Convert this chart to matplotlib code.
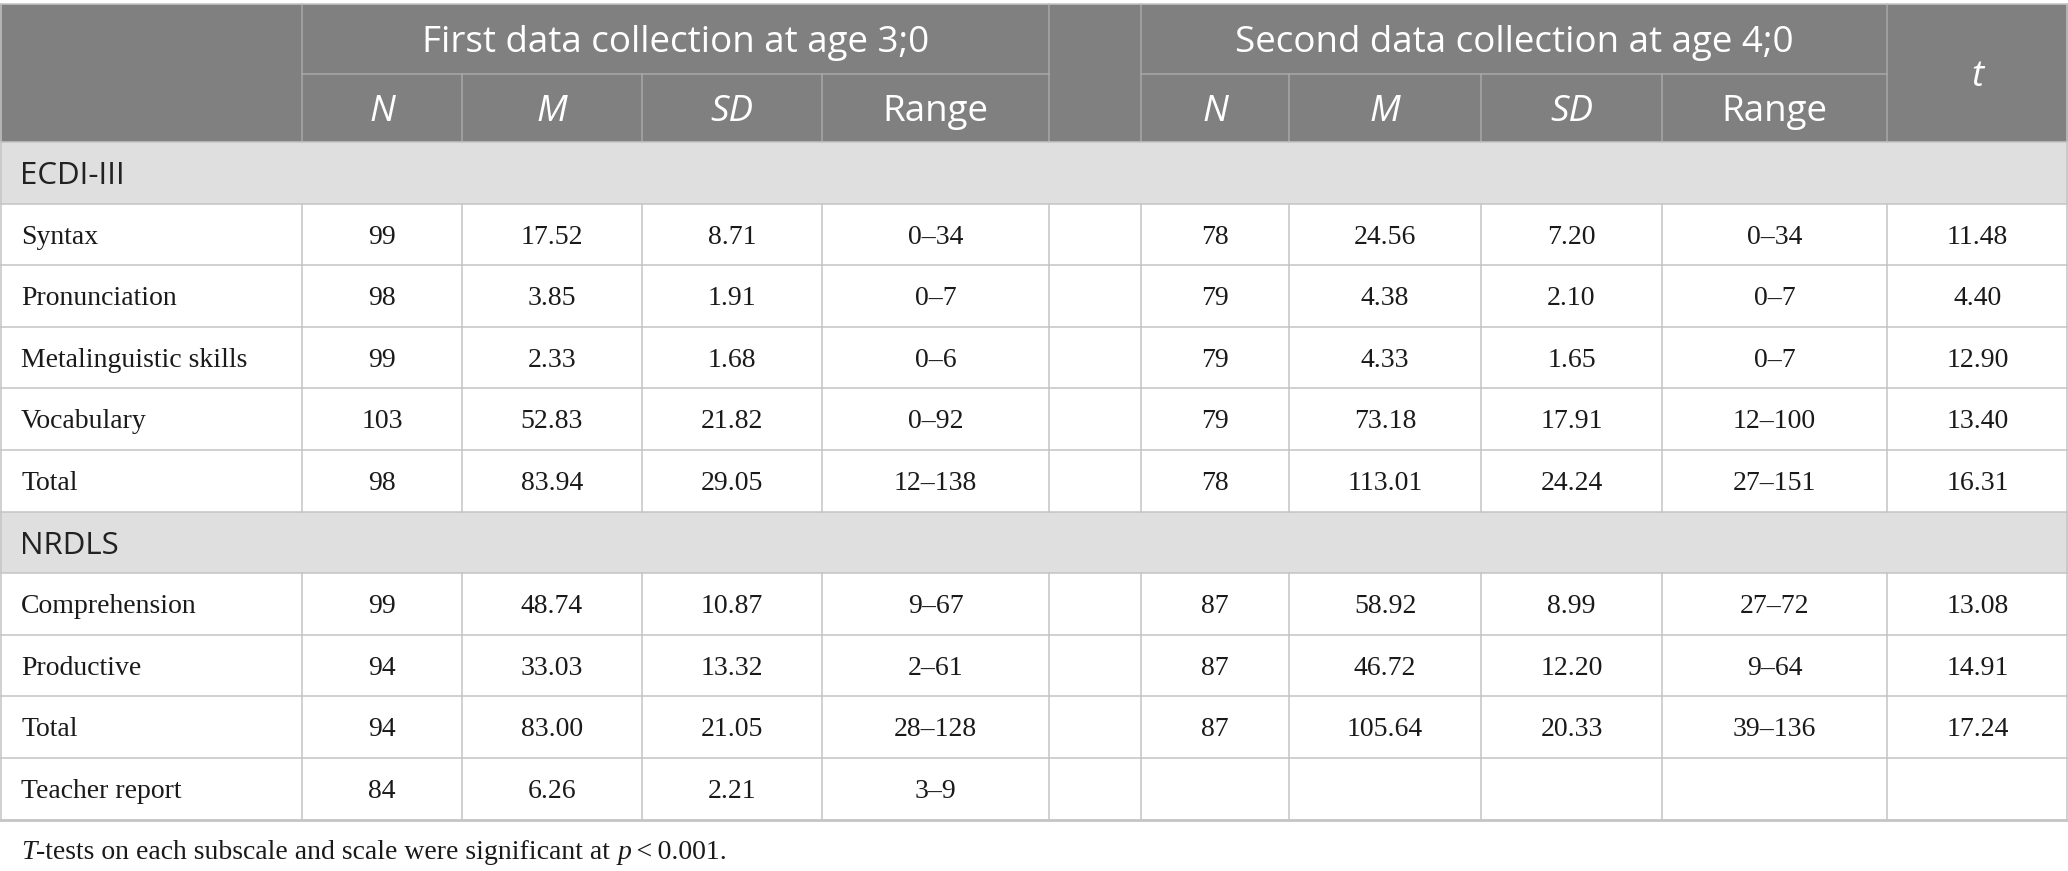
"""
Descriptive stats table, ECDI-III and NRDLS at age 3;0 and 4;0
"""
import matplotlib
matplotlib.use("Agg")
import matplotlib.pyplot as plt
from matplotlib.patches import Rectangle

# --- data ---
group_labels = ["First data collection at age 3;0", "Second data collection at age 4;0"]
sub_labels = ["N", "M", "SD", "Range"]
t_label = "t"

ecdi_rows = ["Syntax", "Pronunciation", "Metalinguistic skills", "Vocabulary", "Total"]
ecdi_first = [["99", "17.52", "8.71", "0–34"],
              ["98", "3.85", "1.91", "0–7"],
              ["99", "2.33", "1.68", "0–6"],
              ["103", "52.83", "21.82", "0–92"],
              ["98", "83.94", "29.05", "12–138"]]
ecdi_second = [["78", "24.56", "7.20", "0–34"],
               ["79", "4.38", "2.10", "0–7"],
               ["79", "4.33", "1.65", "0–7"],
               ["79", "73.18", "17.91", "12–100"],
               ["78", "113.01", "24.24", "27–151"]]
ecdi_t = ["11.48", "4.40", "12.90", "13.40", "16.31"]

nrdls_rows = ["Comprehension", "Productive", "Total", "Teacher report"]
nrdls_first = [["99", "48.74", "10.87", "9–67"],
               ["94", "33.03", "13.32", "2–61"],
               ["94", "83.00", "21.05", "28–128"],
               ["84", "6.26", "2.21", "3–9"]]
nrdls_second = [["87", "58.92", "8.99", "27–72"],
                ["87", "46.72", "12.20", "9–64"],
                ["87", "105.64", "20.33", "39–136"],
                ["", "", "", ""]]
nrdls_t = ["13.08", "14.91", "17.24", ""]

sections = [("ECDI-III", ecdi_rows, ecdi_first, ecdi_second, ecdi_t),
            ("NRDLS", nrdls_rows, nrdls_first, nrdls_second, nrdls_t)]

# --- layout (pixels) ---
W, H = 2068, 871
col_edges = [0, 302, 462, 642, 822, 1049, 1141, 1289, 1481, 1662, 1887, 2068]
top, split, head_bot = 4, 74, 142
row_h = 61.6

HEAD = "#7f807f"
BAND = "#e0dfe0"
GRID = "#c4c4c4"
HGRID = "#a8a8a8"

SANS = "Open Sans"
SERIF = "Liberation Serif"
fs_head = 26.5
fs_band = 22.5
fs_body = 20
fs_note = 20


def px(pt):
    return pt * 100 / 72.0


def base(yc, fs, cap=0.66):
    # baseline so capitals sit centred on yc
    return yc + cap * px(fs) / 2


def ccenter(i):
    return (col_edges[i] + col_edges[i + 1]) / 2


fig = plt.figure(figsize=(W / 100, H / 100), dpi=100)
ax = fig.add_axes([0, 0, 1, 1])
ax.set_xlim(0, W)
ax.set_ylim(H, 0)
ax.axis("off")

# header block
ax.add_patch(Rectangle((0, top), W, head_bot - top, color=HEAD, lw=0))
g1 = (col_edges[1], col_edges[5])
g2 = (col_edges[6], col_edges[10])
for a, b in (g1, g2):
    ax.plot([a, b], [split, split], color=HGRID, lw=1.1)
for x in (col_edges[1], col_edges[5], col_edges[6], col_edges[10]):
    ax.plot([x, x], [top, head_bot], color=HGRID, lw=1.1)
for i in (2, 3, 4, 7, 8, 9):
    ax.plot([col_edges[i]] * 2, [split, head_bot], color=HGRID, lw=1.1)

ax.text((g1[0] + g1[1]) / 2, base((top + split) / 2, fs_head, 0.714), group_labels[0],
        ha="center", va="baseline", color="white", fontsize=fs_head, family=SANS)
ax.text((g2[0] + g2[1]) / 2, base((top + split) / 2, fs_head, 0.714), group_labels[1],
        ha="center", va="baseline", color="white", fontsize=fs_head, family=SANS)
for k, lab in enumerate(sub_labels):
    for off in (1, 6):
        ax.text(ccenter(off + k), base((split + head_bot) / 2, fs_head, 0.714), lab,
                ha="center", va="baseline", color="white", fontsize=fs_head, family=SANS,
                style="normal" if lab == "Range" else "italic")
ax.text(ccenter(10), base((top + head_bot) / 2, fs_head, 0.714), t_label,
        ha="center", va="baseline", color="white", fontsize=fs_head, family=SANS,
        style="italic")

# body
y = head_bot
for name, rows, first, second, tvals in sections:
    ax.add_patch(Rectangle((0, y), W, row_h, color=BAND, lw=0))
    ax.text(20, base(y + row_h / 2, fs_band, 0.714), name, ha="left", va="baseline",
            color="#222222", fontsize=fs_band, family=SANS)
    ax.plot([0, W], [y, y], color=GRID, lw=1.1)
    y += row_h
    for r, lab in enumerate(rows):
        ax.plot([0, W], [y, y], color=GRID, lw=1.1)
        yb = base(y + row_h / 2, fs_body)
        ax.text(21, yb, lab, ha="left", va="baseline", color="#1a1a1a",
                fontsize=fs_body, family=SERIF)
        cells = first[r] + [""] + second[r] + [tvals[r]]
        for c, val in enumerate(cells):
            if val:
                ax.text(ccenter(c + 1), yb, val, ha="center", va="baseline",
                        color="#1a1a1a", fontsize=fs_body, family=SERIF)
        for x in col_edges[1:-1]:
            ax.plot([x, x], [y, y + row_h], color=GRID, lw=1.1)
        y += row_h

# outer frame
ax.plot([0, W], [top, top], color=GRID, lw=1.1)
ax.plot([0, W], [y, y], color="#c4c4c4", lw=2.0)
ax.plot([0.6, 0.6], [top, y], color=GRID, lw=1.1)
ax.plot([W - 0.6, W - 0.6], [top, y], color=GRID, lw=1.1)

# footnote, pieces in italic / roman
note = [("T", "italic"), ("-tests on each subscale and scale were significant at ", "normal"),
        ("p", "italic"), ("\u2009<\u20090.001.", "normal")]
fig.canvas.draw()
r = fig.canvas.get_renderer()
xn = 21
yn = base(850, fs_note)
for s, st in note:
    tx = ax.text(xn, yn, s, ha="left", va="baseline", color="#1a1a1a",
                 fontsize=fs_note, family=[SERIF, "DejaVu Serif"], style=st)
    bb = tx.get_window_extent(renderer=r)
    xn += bb.width

fig.savefig("out.png", dpi=100)
